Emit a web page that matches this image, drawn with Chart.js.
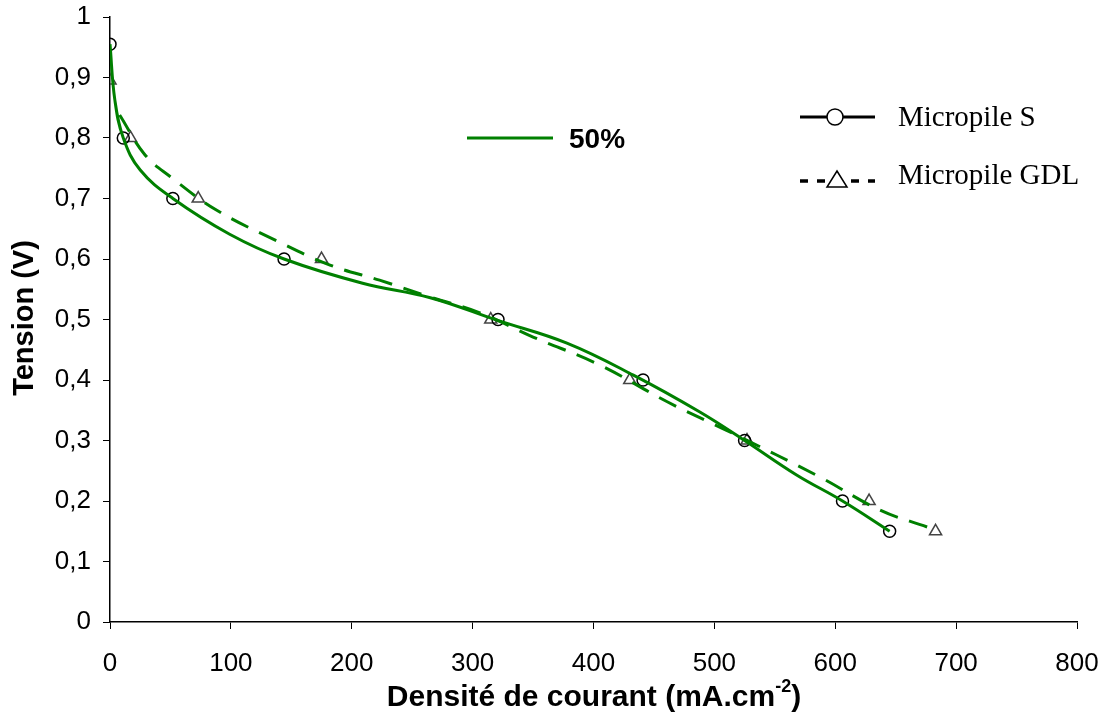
<!DOCTYPE html>
<html>
<head>
<meta charset="utf-8">
<script src="https://cdn.jsdelivr.net/npm/chart.js@4/dist/chart.umd.min.js"></script>
<style>
    html, body { margin: 0; padding: 0; background: #fff; }
    #wrap { width: 1105px; height: 720px; }
</style>
</head>
<body>
<div id="wrap"><canvas id="chart"></canvas></div>
<script>
// measured points (markers)
const sCurrent = [0, 11, 52, 144, 321, 441, 525, 606, 645];
const sTension = [0.955, 0.8, 0.7, 0.6, 0.5, 0.4, 0.3, 0.2, 0.15];
const gdlCurrent = [0, 17, 73, 175, 315, 430, 527, 628, 683];
const gdlTension = [0.895, 0.8, 0.7, 0.6, 0.5, 0.4, 0.3, 0.2, 0.15];

// green fitted curves
const fitSCurrent = [0, 4, 11, 25, 52, 99, 144, 209, 265, 320, 378, 433, 488, 525, 568, 606, 645];
const fitSTension = [0.955, 0.863, 0.8, 0.747, 0.7, 0.641, 0.6, 0.56, 0.536, 0.499, 0.461, 0.408, 0.347, 0.3, 0.243, 0.2, 0.15];
const fitGdlCurrent = [8, 29, 50, 88, 138, 182, 223, 265, 306, 350, 405, 461, 515, 587, 637, 676];
const fitGdlTension = [0.838, 0.772, 0.736, 0.681, 0.63, 0.59, 0.565, 0.537, 0.511, 0.471, 0.425, 0.364, 0.312, 0.24, 0.185, 0.157];

const xTicks = [0, 100, 200, 300, 400, 500, 600, 700, 800];
const yTicks = [0, 0.1, 0.2, 0.3, 0.4, 0.5, 0.6, 0.7, 0.8, 0.9, 1];

const green = '#008000';
const pts = (xs, ys) => xs.map((x, i) => ({ x: x, y: ys[i] }));

// titles + hand drawn legend
const decor = {
    id: 'decor',
    afterDraw(chart) {
        const ctx = chart.ctx;
        ctx.save();
        ctx.fillStyle = '#000';
        // x title with superscript
        const main = 'Densité de courant (mA.cm';
        ctx.font = 'bold 30px "Liberation Sans", Arial, sans-serif';
        const w1 = ctx.measureText(main).width;
        ctx.font = 'bold 18px "Liberation Sans", Arial, sans-serif';
        const w2 = ctx.measureText('-2').width;
        ctx.font = 'bold 30px "Liberation Sans", Arial, sans-serif';
        const w3 = ctx.measureText(')').width;
        let x0 = 594 - (w1 + w2 + w3) / 2;
        ctx.textBaseline = 'alphabetic';
        ctx.textAlign = 'left';
        ctx.fillText(main, x0, 706);
        ctx.font = 'bold 18px "Liberation Sans", Arial, sans-serif';
        ctx.fillText('-2', x0 + w1, 692);
        ctx.font = 'bold 30px "Liberation Sans", Arial, sans-serif';
        ctx.fillText(')', x0 + w1 + w2, 706);

        // y title
        ctx.save();
        ctx.translate(25, 318);
        ctx.rotate(-Math.PI / 2);
        ctx.textAlign = 'center';
        ctx.textBaseline = 'middle';
        ctx.font = 'bold 29px "Liberation Sans", Arial, sans-serif';
        ctx.fillText('Tension (V)', 0, 0);
        ctx.restore();

        // "50%" legend
        ctx.strokeStyle = green;
        ctx.lineWidth = 3;
        ctx.beginPath();
        ctx.moveTo(467, 138);
        ctx.lineTo(553, 138);
        ctx.stroke();
        ctx.font = 'bold 28px "Liberation Sans", Arial, sans-serif';
        ctx.textBaseline = 'middle';
        ctx.fillText('50%', 569, 140);

        // series legend
        ctx.strokeStyle = '#000';
        ctx.lineWidth = 3;
        ctx.beginPath();
        ctx.moveTo(800, 117);
        ctx.lineTo(875, 117);
        ctx.stroke();
        ctx.fillStyle = '#fff';
        ctx.lineWidth = 1.5;
        ctx.beginPath();
        ctx.arc(835, 117, 8, 0, Math.PI * 2);
        ctx.fill();
        ctx.stroke();

        ctx.lineWidth = 3.5;
        ctx.setLineDash([8, 9]);
        ctx.beginPath();
        ctx.moveTo(800, 181);
        ctx.lineTo(875, 181);
        ctx.stroke();
        ctx.setLineDash([]);
        ctx.lineWidth = 1.5;
        ctx.beginPath();
        ctx.moveTo(837, 171);
        ctx.lineTo(847, 187);
        ctx.lineTo(827, 187);
        ctx.closePath();
        ctx.fill();
        ctx.stroke();

        ctx.fillStyle = '#000';
        ctx.font = '29px "Liberation Serif", "Times New Roman", serif';
        ctx.textBaseline = 'alphabetic';
        ctx.fillText('Micropile S', 898, 126);
        ctx.fillText('Micropile GDL', 898, 184);
        ctx.restore();
    }
};

new Chart(document.getElementById('chart'), {
    type: 'scatter',
    data: {
        datasets: [
            {
                label: 'fit S',
                data: pts(fitSCurrent, fitSTension),
                showLine: true,
                borderColor: green,
                borderWidth: 3,
                pointRadius: 0,
                tension: 0.4
            },
            {
                label: 'fit GDL',
                data: pts(fitGdlCurrent, fitGdlTension),
                showLine: true,
                borderColor: green,
                borderWidth: 3,
                borderDash: [19, 12],
                pointRadius: 0,
                tension: 0.4
            },
            {
                label: 'Micropile S',
                data: pts(sCurrent, sTension),
                pointStyle: 'circle',
                pointRadius: 6,
                pointBorderWidth: 1.5,
                pointBorderColor: '#000',
                pointBackgroundColor: 'rgba(0,0,0,0)'
            },
            {
                label: 'Micropile GDL',
                data: pts(gdlCurrent, gdlTension),
                pointStyle: 'triangle',
                pointRadius: 7,
                pointBorderWidth: 1.5,
                pointBorderColor: '#444',
                pointBackgroundColor: 'rgba(0,0,0,0)'
            }
        ]
    },
    options: {
        responsive: true,
        maintainAspectRatio: false,
        animation: false,
        layout: { padding: { top: 17, right: 28, left: 0, bottom: 0 } },
        plugins: { legend: { display: false }, tooltip: { enabled: false } },
        scales: {
            x: {
                type: 'linear',
                min: 0,
                max: 800,
                afterBuildTicks: s => { s.ticks = xTicks.map(v => ({ value: v })); },
                afterFit: s => { s.height = 98; s.paddingLeft = 0; s.paddingRight = 0; },
                grid: { drawOnChartArea: false, tickLength: 7, color: '#000', lineWidth: 1 },
                border: { color: '#000', width: 1.5 },
                ticks: {
                    color: '#000',
                    padding: 19,
                    maxRotation: 0,
                    font: { family: '"Liberation Sans", Arial, sans-serif', size: 26 }
                }
            },
            y: {
                type: 'linear',
                min: 0,
                max: 1,
                afterBuildTicks: s => { s.ticks = yTicks.map(v => ({ value: v })); },
                afterFit: s => { s.width = 110; s.paddingTop = 0; s.paddingBottom = 0; },
                grid: { drawOnChartArea: false, tickLength: 7, color: '#000', lineWidth: 1 },
                border: { color: '#000', width: 1.5 },
                ticks: {
                    color: '#000',
                    padding: 12,
                    font: { family: '"Liberation Sans", Arial, sans-serif', size: 26 },
                    callback: v => String(Math.round(v * 10) / 10).replace('.', ',')
                }
            }
        }
    },
    plugins: [decor]
});
</script>
</body>
</html>
